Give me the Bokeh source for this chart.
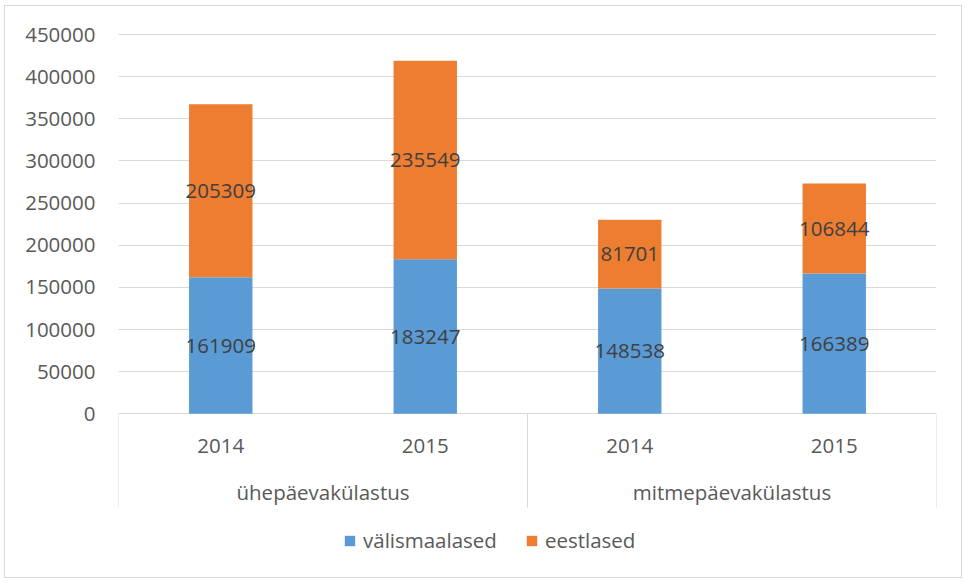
from bokeh.plotting import figure
from bokeh.models import (ColumnDataSource, FactorRange, Range1d, FixedTicker,
                          Legend, LegendItem, NumeralTickFormatter)
from bokeh.core.properties import value
from bokeh.embed import file_html
from bokeh.resources import INLINE

# ---- data ----
groups = ["ühepäevakülastus", "ühepäevakülastus", "mitmepäevakülastus", "mitmepäevakülastus"]
years = ["2014", "2015", "2014", "2015"]
valismaalased = [161909, 183247, 148538, 166389]
eestlased = [205309, 235549, 81701, 106844]
series_names = ["välismaalased", "eestlased"]
y_ticks = [0, 50000, 100000, 150000, 200000, 250000, 300000, 350000, 400000, 450000]

# ---- styling constants ----
FONT = "Open Sans"
FS = "20.5px"
AX_COL = "#595959"
LBL_COL = "#404040"
BLUE = "#5B9BD5"
ORANGE = "#ED7D31"
GRID = "#D9D9D9"

OX, OY = 5, 6                   # canvas origin on page (after margin + border)
W, H = 958, 573
FRAME_L, FRAME_R, FRAME_T = 118, 936, 33
ZERO_Y = 413.3
ML = FRAME_L - OX
MR = OX + W - FRAME_R
MT = FRAME_T - OY
MB = 0
frame_bottom = OY + H
zero_px = ZERO_Y - FRAME_T
ppu = (zero_px - 1) / max(y_ticks)
y_end = zero_px / ppu
y_start = -(frame_bottom - ZERO_Y) / ppu

factors = list(zip(groups, years))
src = ColumnDataSource(dict(
    x=factors,
    top_v=valismaalased,
    bot_e=valismaalased,
    top_e=[a + b for a, b in zip(valismaalased, eestlased)],
    mid_v=[a / 2 for a in valismaalased],
    mid_e=[a + b / 2 for a, b in zip(valismaalased, eestlased)],
    lab_v=[str(a) for a in valismaalased],
    lab_e=[str(b) for b in eestlased],
))

x_range = FactorRange(*factors, group_padding=0, factor_padding=0, range_padding=0)
p = figure(width=W, height=H, x_range=x_range, y_range=Range1d(y_start, y_end),
           output_backend="svg", toolbar_location=None,
           min_border_left=ML, min_border_right=MR, min_border_top=MT, min_border_bottom=MB)
p.outline_line_color = None
p.xaxis.visible = False
p.xgrid.visible = False
p.styles = {"border": "1px solid #D9D9D9", "margin-left": "4px", "margin-top": "5px"}

yax = p.yaxis[0]
yax.ticker = FixedTicker(ticks=y_ticks)
yax.formatter = NumeralTickFormatter(format="0")
yax.axis_line_color = None
yax.major_tick_line_color = None
yax.minor_tick_line_color = None
yax.major_tick_out = 0
yax.major_tick_in = 0
yax.major_label_standoff = 23
yax.major_label_text_font = FONT
yax.major_label_text_font_size = FS
yax.major_label_text_color = AX_COL
p.ygrid.ticker = FixedTicker(ticks=y_ticks)
p.ygrid.grid_line_color = GRID
p.ygrid.grid_line_width = 1

bw = 0.31
r_v = p.vbar(x="x", top="top_v", bottom=0, width=bw, source=src,
             fill_color=BLUE, line_color=None)
r_e = p.vbar(x="x", top="top_e", bottom="bot_e", width=bw, source=src,
             fill_color=ORANGE, line_color=None)

for col, lab in (("mid_v", "lab_v"), ("mid_e", "lab_e")):
    p.text(x="x", y=col, text=lab, source=src, text_align="center",
           text_baseline="middle", text_font=value(FONT), text_font_size=FS,
           text_color=LBL_COL)

# category axis (drawn inside the frame below zero)
n = len(factors)
sep_bottom = -(507 - ZERO_Y) / ppu
sep_x = [0, n / 2, n]
p.segment(x0=sep_x, y0=[0] * 3, x1=sep_x, y1=[sep_bottom] * 3,
          line_color=GRID, line_width=1)

p.text(x=factors, y=[0] * n, text=years, y_offset=31.7, text_align="center",
       text_baseline="middle", text_font=value(FONT), text_font_size=FS,
       text_color=AX_COL)
uniq_groups = list(dict.fromkeys(groups))
p.text(x=uniq_groups, y=[0] * len(uniq_groups), text=uniq_groups, y_offset=78,
       text_align="center", text_baseline="middle", text_font=value(FONT),
       text_font_size=FS, text_color=AX_COL)

legend = Legend(items=[LegendItem(label=series_names[0], renderers=[r_v]),
                       LegendItem(label=series_names[1], renderers=[r_e])],
                orientation="horizontal", location=(225, 25))
legend.border_line_color = None
legend.background_fill_alpha = 0
legend.padding = 0
legend.margin = 0
legend.spacing = 28
legend.glyph_width = 13
legend.glyph_height = 13
legend.label_standoff = 7
legend.label_height = 20
legend.label_text_font = FONT
legend.label_text_font_size = FS
legend.label_text_color = AX_COL
p.add_layout(legend, "center")

open("out.html", "w").write(file_html(p, INLINE))
